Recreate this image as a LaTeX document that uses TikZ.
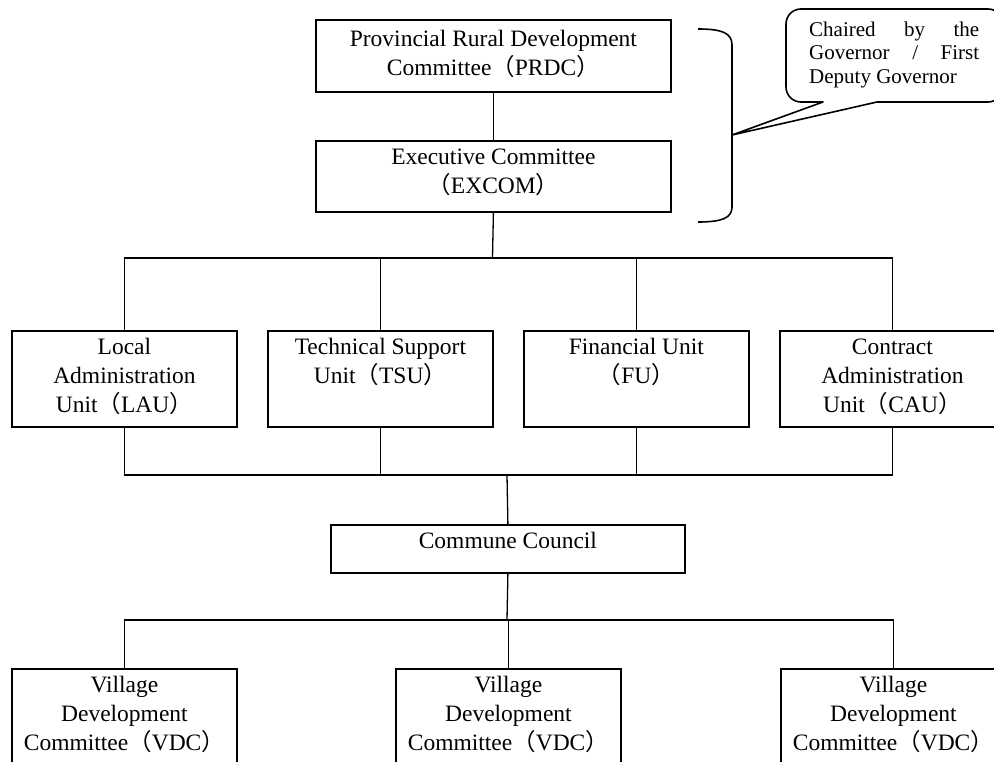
\documentclass[tikz,border=0pt]{standalone}
\usepackage{fontspec}
\setmainfont{Liberation Serif}
\newfontfamily\cjkfont{Noto Sans CJK JP}
\newcommand\lpa{{\cjkfont （}}
\newcommand\rpa{{\cjkfont ）}}
% fixed ascent for the first line, so every text block starts at a known baseline
\newcommand\firstline{\rule{0pt}{21pt}}
\usetikzlibrary{calc}
\begin{document}
\begin{tikzpicture}[x=1pt,y=-1pt,
  box/.style={draw, line width=1.8pt, inner sep=0pt, anchor=north west},
  txt/.style={inner sep=0pt, anchor=north, align=center,
    font=\fontsize{23.5}{29}\selectfont},
  link/.style={line width=1.3pt},
  bracket/.style={line width=1.6pt, line join=round}]
\useasboundingbox (0,0) rectangle (994,762);
\fill[white] (0,0) rectangle (994,762);
\clip (0,0) rectangle (994,762);

% upper committees
\node[box, minimum width=355pt, minimum height=72pt] (prdc) at (315,19) {};
\node[box, minimum width=355pt, minimum height=71pt] (excom) at (315,140) {};
\node[txt] (prdctext) at ($(prdc.north)+(0,6)$)
  {\firstline Provincial Rural Development\\Committee\lpa PRDC\rpa};
\node[txt] (excomtext) at ($(excom.north)+(0,3)$)
  {\firstline Executive Committee\\\lpa EXCOM\rpa};

% units
\foreach \n/\x in {lau/11, tsu/267, fu/523, cau/779}
  \node[box, minimum width=225pt, minimum height=96pt] (\n) at (\x,330) {};
\node[txt] (lautext) at ($(lau.north)+(0,3)$) {\firstline Local\\Administration\\Unit\lpa LAU\rpa};
\node[txt] (tsutext) at ($(tsu.north)+(0,3)$) {\firstline Technical Support\\Unit\lpa TSU\rpa};
\node[txt] (futext) at ($(fu.north)+(0,3)$) {\firstline Financial Unit\\\lpa FU\rpa};
\node[txt] (cautext) at ($(cau.north)+(0,3)$) {\firstline Contract\\Administration\\Unit\lpa CAU\rpa};

% commune and villages
\node[box, minimum width=354pt, minimum height=48pt] (commune) at (330,524) {};
\node[txt] (communetext) at ($(commune.north)+(0,3)$) {\firstline Commune Council};
\foreach \n/\x in {vdc1/11, vdc2/395, vdc3/780} {
  \node[box, minimum width=225pt, minimum height=150pt] (\n) at (\x,668) {};
  \node[txt] (\n text) at ($(\n.north)+(0,3)$) {\firstline Village\\Development\\Committee\lpa VDC\rpa};
}

% connectors
\coordinate (j1) at (492.5,258);
\coordinate (j2) at (507,475);
\coordinate (j3) at (507,620);
\draw[link] (prdc) -- (excom);
\draw[link] (excom.south) -- (j1);
\draw[link] (lau.north) |- (j1) -| (cau.north);
\draw[link] (tsu.north) -- (tsu.north |- j1);
\draw[link] (fu.north) -- (fu.north |- j1);
\draw[link] (lau.south) |- (j2) -| (cau.south);
\draw[link] (tsu.south) -- (tsu.south |- j2);
\draw[link] (fu.south) -- (fu.south |- j2);
\draw[link] (j2) -- (commune.north);
\draw[link] (commune.south) -- (j3);
\draw[link] (vdc1.north) |- (j3) -| (vdc3.north);
\draw[link] (vdc2.north) -- (vdc2.north |- j3);

% bracket around the two committees
\coordinate (bracemid) at (732,135);
\draw[bracket] (698,29) .. controls (722,29) and (732,33) .. (732,45)
  -- (bracemid) -- (732,207) .. controls (732,218) and (722,222) .. (698,222);

% callout balloon
\draw[bracket] (1003,24) .. controls (1003,15.7) and (996.3,9) .. (988,9)
  -- (801,9) .. controls (792.7,9) and (786,15.7) .. (786,24)
  -- (786,87) .. controls (786,95.3) and (792.7,102) .. (801,102)
  -- (823,102) -- (bracemid) -- (877,102) -- (988,102)
  .. controls (996.3,102) and (1003,95.3) .. (1003,87) -- cycle;
\node[inner sep=0pt, anchor=north west, text width=170pt, align=justify,
  font=\fontsize{21}{23.5}\selectfont]
  (note) at (809,17) {\tolerance=10000\hyphenpenalty=10000\rule{0pt}{19pt}Chaired by the\linebreak Governor / First\linebreak Deputy Governor};
\end{tikzpicture}
\end{document}
